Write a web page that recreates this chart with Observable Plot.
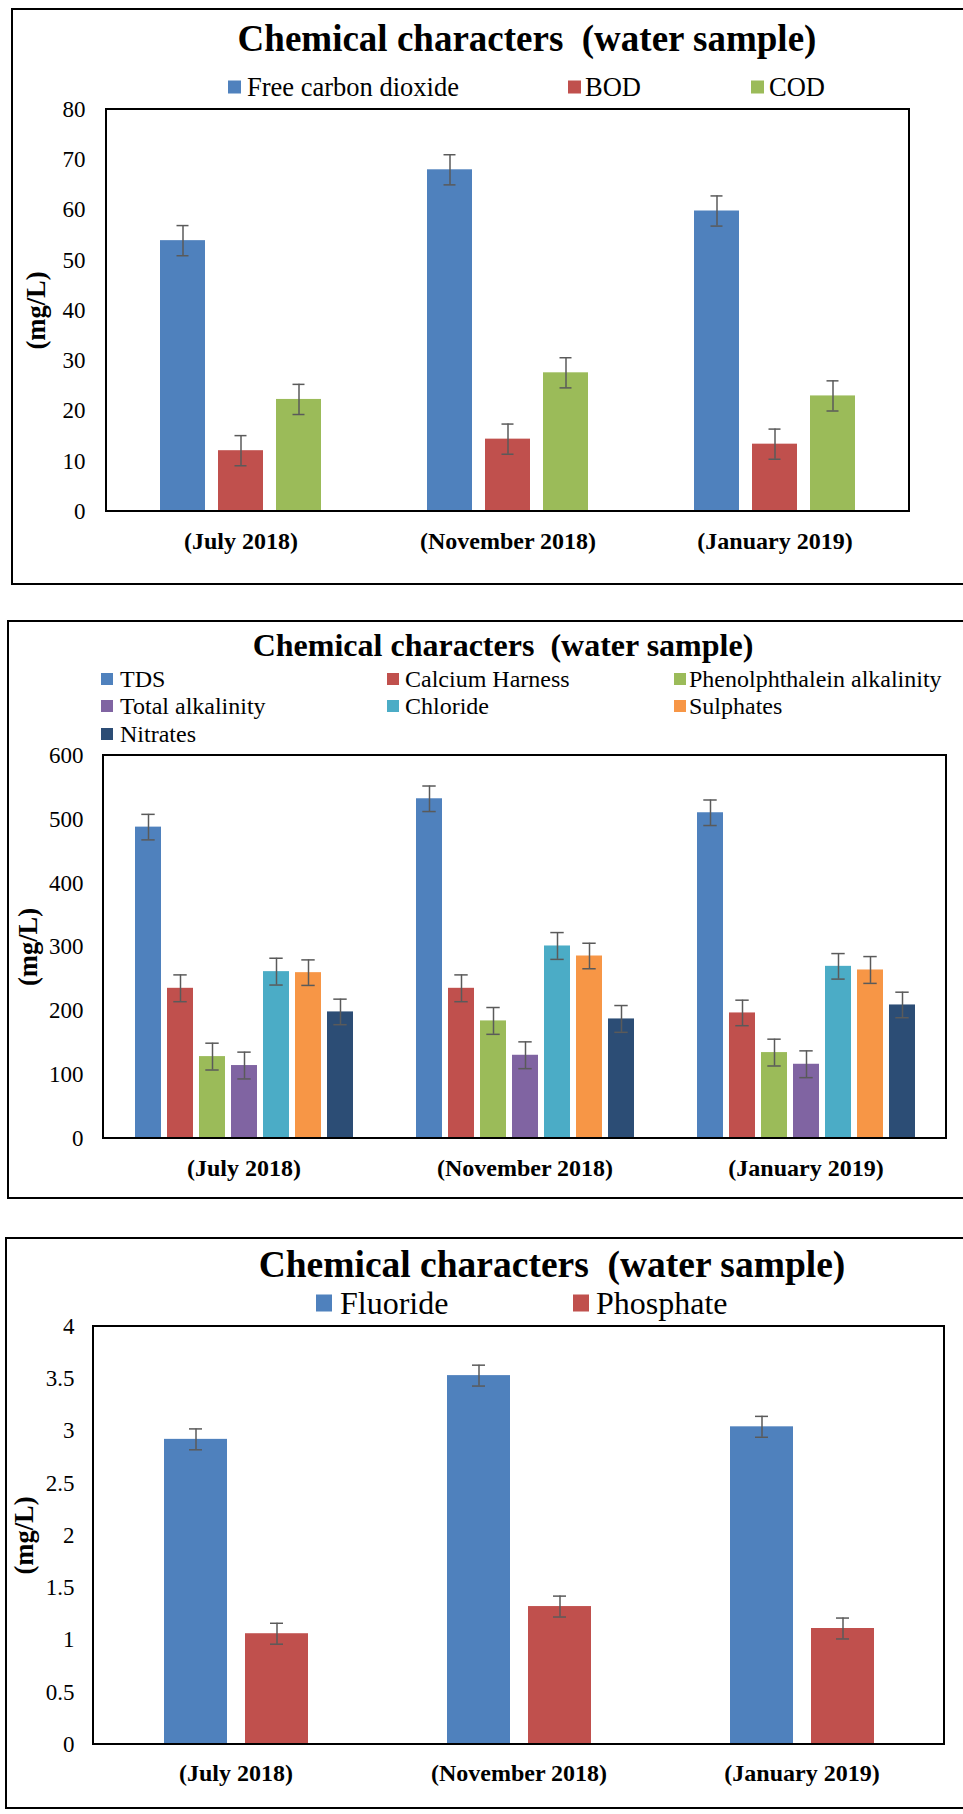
<!DOCTYPE html>
<html><head><meta charset="utf-8">
<script src="https://cdn.jsdelivr.net/npm/d3@7"></script>
<script src="https://cdn.jsdelivr.net/npm/@observablehq/plot@0.6"></script>
<style>
html,body{margin:0;padding:0;background:#fff;}
body{width:963px;height:1814px;position:relative;overflow:hidden;font-family:"Liberation Serif","Times New Roman",serif;color:#000;}
.box{position:absolute;border:2px solid #000;box-sizing:border-box;width:1000px;}
.title{position:absolute;font-weight:bold;white-space:nowrap;transform:translate(-50%,-50%);line-height:1;}
.leg{position:absolute;white-space:nowrap;line-height:1;transform:translateY(-50%);}
.sw{position:absolute;transform:translateY(-50%);}
.chart{position:absolute;left:0;}
.chart svg [aria-label="y-axis label"], .chart svg [aria-label="y-axis label"] text{font-weight:bold;font-size:26.5px;}
</style></head><body>
<script>
// ---------- data ----------
const months = ["(July 2018)", "(November 2018)", "(January 2019)"];

// Panel 1
const series1 = ["Free carbon dioxide", "BOD", "COD"];
const freeCO2 = [53.9, 68.0, 59.8];
const bod = [12.1, 14.4, 13.4];
const cod = [22.3, 27.6, 23.0];
const freeCO2Err = [3, 3, 3];
const bodErr = [3, 3, 3];
const codErr = [3, 3, 3];
const yTicks1 = [0, 10, 20, 30, 40, 50, 60, 70, 80];

// Panel 2
const series2 = ["TDS", "Calcium Harness", "Phenolphthalein alkalinity", "Total alkalinity", "Chloride", "Sulphates", "Nitrates"];
const tds = [487.8, 532.2, 510.3];
const calcium = [235.3, 235.3, 196.7];
const phenol = [128.3, 184.2, 134.6];
const totalAlk = [114.3, 130.4, 116.3];
const chloride = [261.4, 301.6, 269.7];
const sulphates = [259.8, 285.9, 264.0];
const nitrates = [198.3, 187.3, 209.2];
const tdsErr = [20, 20, 20];
const calciumErr = [21, 21, 20];
const phenolErr = [21, 21, 21];
const totalAlkErr = [21, 21, 21];
const chlorideErr = [21, 21, 20];
const sulphatesErr = [20, 20, 21];
const nitratesErr = [20, 21, 20];
const yTicks2 = [0, 100, 200, 300, 400, 500, 600];

// Panel 3
const series3 = ["Fluoride", "Phosphate"];
const fluoride = [2.92, 3.53, 3.04];
const phosphate = [1.06, 1.32, 1.11];
const fluorideErr = [0.1, 0.1, 0.1];
const phosphateErr = [0.1, 0.1, 0.1];
const yTicks3 = [0, 0.5, 1, 1.5, 2, 2.5, 3, 3.5, 4];

const colors1 = ["#4F81BD", "#C0504D", "#9BBB59"];
const colors2 = ["#4F81BD", "#C0504D", "#9BBB59", "#8064A2", "#4BACC6", "#F79646", "#2C4D75"];
const colors3 = ["#4F81BD", "#C0504D"];

const FONT = '"Liberation Serif","Times New Roman",serif';
const ERRC = "#5a5a5a";

function el(tag, cls, css, text) {
  const e = document.createElement(tag);
  if (cls) e.className = cls;
  Object.assign(e.style, css);
  if (text != null) e.textContent = text;
  document.body.appendChild(e);
  return e;
}

function panel(cfg) {
  el("div", "box", {left: cfg.box[0] + "px", top: cfg.box[1] + "px", height: cfg.box[2] + "px"});
  el("div", "title", {left: cfg.title[0] + "px", top: cfg.title[1] + "px", fontSize: cfg.title[2] + "px"}, "Chemical characters\u00a0 (water sample)");
  cfg.series.forEach((s, i) => {
    const L = cfg.legend[i];
    el("div", "sw", {left: L[0] + "px", top: L[1] + "px", width: cfg.sw[0] + "px", height: cfg.sw[1] + "px", background: cfg.colors[i]});
    el("div", "leg", {left: L[2] + "px", top: L[1] + "px", fontSize: cfg.legFont + "px"}, s);
  });

  const rows = [];
  cfg.series.forEach((s, si) => cfg.months.forEach((m, mi) =>
    rows.push({month: m, series: s, value: cfg.values[si][mi], err: cfg.errors[si][mi]})));

  const chart = Plot.plot({
    width: 963, height: cfg.h,
    marginLeft: cfg.m[0], marginRight: cfg.m[1], marginTop: cfg.m[2], marginBottom: cfg.m[3],
    style: {fontFamily: FONT, fontSize: "23px", color: "#000", background: "transparent", overflow: "visible"},
    fx: {domain: cfg.months, padding: 0, label: null},
    x: {domain: cfg.series, paddingInner: cfg.pad[0], paddingOuter: cfg.pad[1], axis: null},
    y: {domain: [cfg.yTicks[0], cfg.yTicks[cfg.yTicks.length - 1]]},
    color: {domain: cfg.series, range: cfg.colors},
    marks: [
      Plot.barY(rows, {fx: "month", x: "series", y: "value", fill: "series"}),
      Plot.ruleX(rows, {fx: "month", x: "series", y1: d => d.value - d.err, y2: d => d.value + d.err, stroke: ERRC, strokeWidth: 1.5}),
      Plot.tickY(rows, {fx: "month", x: "series", y: d => d.value - d.err, stroke: ERRC, strokeWidth: 1.5, insetLeft: cfg.cap, insetRight: cfg.cap}),
      Plot.tickY(rows, {fx: "month", x: "series", y: d => d.value + d.err, stroke: ERRC, strokeWidth: 1.5, insetLeft: cfg.cap, insetRight: cfg.cap}),
      Plot.axisY({ticks: cfg.yTicks, tickFormat: d => String(d), tickSize: 0, tickPadding: cfg.tickPad, fontSize: 23,
        label: "(mg/L)", labelAnchor: "center", labelOffset: cfg.labelOffset, labelArrow: "none"}),
      Plot.axisFx({anchor: "bottom", tickSize: 0, tickPadding: cfg.fxPad, fontSize: 24, fontWeight: "bold", label: null})
    ]
  });
  const wrap = el("div", "chart", {top: cfg.top + "px"});
  wrap.appendChild(chart);
  // plot-area frame, from the chart's own scales
  const fx = chart.scale("fx"), y = chart.scale("y");
  const x0 = Math.min(...fx.range), x1 = Math.max(...fx.range);
  const y0 = Math.min(...y.range), y1 = Math.max(...y.range);
  d3.select(chart).append("rect")
    .attr("x", x0).attr("y", y0).attr("width", x1 - x0).attr("height", y1 - y0)
    .attr("fill", "none").attr("stroke", "#000").attr("stroke-width", 2);
}

panel({
  box: [11, 8, 577], title: [527, 38, 37],
  series: series1, colors: colors1, months,
  values: [freeCO2, bod, cod], errors: [freeCO2Err, bodErr, codErr],
  legend: [[228, 87, 247], [568, 87, 585], [751, 87, 769]], sw: [13, 13], legFont: 26.5,
  top: 95, h: 475, m: [106, 54, 14, 59], pad: [0.22, 0.88], cap: 16.5,
  yTicks: yTicks1, tickPad: 22, labelOffset: 81, fxPad: 20
});

panel({
  box: [7, 620, 579], title: [503, 645, 32],
  series: series2, colors: colors2, months,
  values: [tds, calcium, phenol, totalAlk, chloride, sulphates, nitrates],
  errors: [tdsErr, calciumErr, phenolErr, totalAlkErr, chlorideErr, sulphatesErr, nitratesErr],
  legend: [[101, 679, 120], [387, 679, 405], [674, 679, 689], [101, 706, 120], [387, 706, 405], [674, 706, 689], [101, 734, 120]],
  sw: [12, 12], legFont: 24,
  top: 745, h: 460, m: [103, 17, 10, 67], pad: [0.2, 0.963], cap: 6.3,
  yTicks: yTicks2, tickPad: 20, labelOffset: 85, fxPad: 20
});

panel({
  box: [5, 1237, 572], title: [552, 1265, 37.5],
  series: series3, colors: colors3, months,
  values: [fluoride, phosphate], errors: [fluorideErr, phosphateErr],
  legend: [[316, 1303, 340], [573, 1303, 596]], sw: [16, 17], legFont: 32,
  top: 1316, h: 480, m: [93, 19, 10, 52], pad: [0.224, 0.848], cap: 25,
  yTicks: yTicks3, tickPad: 20, labelOffset: 80, fxPad: 19
});
</script>
</body></html>
